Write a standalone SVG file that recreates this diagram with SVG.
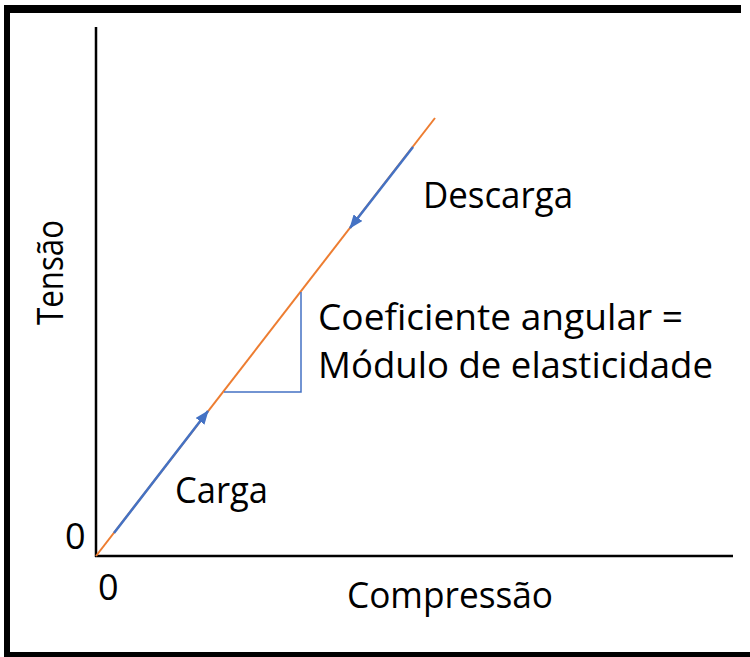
<svg xmlns="http://www.w3.org/2000/svg" width="750" height="657" viewBox="0 0 750 657">
<defs>
<style>
.t{font-family:"Open Sans","Liberation Sans",sans-serif;font-size:36px;fill:#000}
.ax{stroke:#000;stroke-width:2.5;fill:none}
.blue{stroke:#4472C4;stroke-width:2.5;fill:none}
</style>
<marker id="ah" viewBox="0 0 14 11" refX="13" refY="5.5" markerWidth="14" markerHeight="11" markerUnits="userSpaceOnUse" orient="auto">
<path d="M0,0 L14,5.5 L0,11 Z" fill="#4472C4"/>
</marker>
</defs>
<rect width="750" height="657" fill="#fff"/>
<g id="frame" fill="#000">
<rect x="4" y="5" width="737" height="8"/>
<rect x="4" y="5" width="6" height="652"/>
<rect x="4" y="652" width="746" height="5"/>
</g>
<g id="axes">
<line class="ax" x1="96" y1="27" x2="96" y2="557"/>
<line class="ax" x1="95" y1="556" x2="733" y2="556"/>
</g>
<g id="connectors">
<line x1="96" y1="556" x2="435" y2="118" stroke="#ED7D31" stroke-width="2"/>
<line class="blue" x1="114" y1="533" x2="208" y2="411" marker-end="url(#ah)"/>
<line class="blue" x1="413" y1="147" x2="350" y2="228" marker-end="url(#ah)"/>
<polyline points="224,392 301,392 301,292" fill="none" stroke="#4472C4" stroke-width="1.5"/>
</g>
<g id="labels">
<text class="t" x="423" y="208" textLength="150" lengthAdjust="spacingAndGlyphs">Descarga</text>
<text class="t" x="318" y="330" textLength="365" lengthAdjust="spacingAndGlyphs">Coeficiente angular =</text>
<text class="t" x="318" y="378" textLength="395" lengthAdjust="spacingAndGlyphs">Módulo de elasticidade</text>
<text class="t" x="175" y="503" textLength="93" lengthAdjust="spacingAndGlyphs">Carga</text>
<text class="t" x="347" y="608" textLength="206" lengthAdjust="spacingAndGlyphs">Compressão</text>
<text class="t" x="98" y="600">0</text>
<text class="t" x="65" y="549">0</text>
<text class="t" transform="translate(63,325) rotate(-90)" textLength="105" lengthAdjust="spacingAndGlyphs">Tensão</text>
</g>
</svg>
